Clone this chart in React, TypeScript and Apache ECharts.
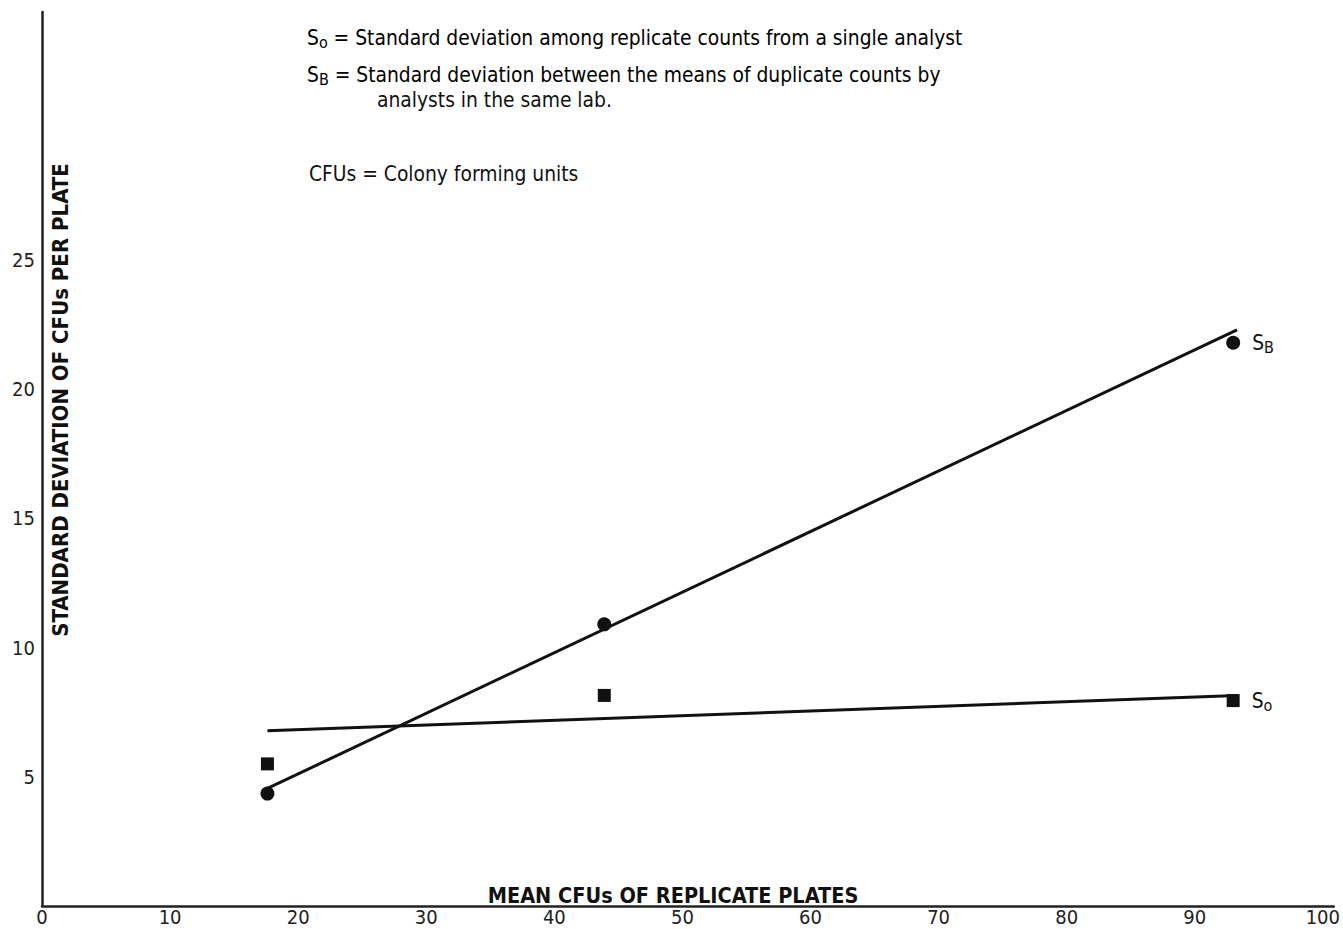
import React, { useEffect, useRef } from "react";
import * as echarts from "echarts";

// Tick labels
const xTickLabels = [0, 10, 20, 30, 40, 50, 60, 70, 80, 90, 100];
const yTickLabels = [5, 10, 15, 20, 25];

// S_B (between analysts) observed points
const sbX = [17.6, 43.9, 93.0];
const sbY = [4.35, 10.9, 21.8];
// S_o (single analyst) observed points
const soX = [17.6, 43.9, 93.0];
const soY = [5.5, 8.15, 7.95];

// Fitted lines (endpoints)
const sbFitX = [17.6, 93.3];
const sbFitY = [4.55, 22.3];
const soFitX = [17.6, 93.3];
const soFitY = [6.78, 8.15];

const FONT = "'DejaVu Sans Condensed', 'DejaVu Sans', sans-serif";
const INK = "#111";

export default function App() {
  const ref = useRef<HTMLDivElement>(null);

  useEffect(() => {
    document.body.style.margin = "0";
    if (!ref.current) return;
    const chart = echarts.init(ref.current, undefined, { renderer: "svg" });

    const subRich = {
      s: { fontFamily: FONT, fontSize: 20.8, color: INK },
      sub: { fontFamily: FONT, fontSize: 16, color: INK, padding: [10, 0, 0, 0] },
      t: { fontFamily: FONT, fontSize: 20.8, color: INK },
    };

    const pts = (xs: number[], ys: number[], name: string) =>
      xs.map((x, i) =>
        i === xs.length - 1
          ? {
              value: [x, ys[i]],
              label: {
                show: true,
                position: "right",
                distance: 12,
                formatter: "{s|S}{sub|" + name + "}",
                rich: subRich,
              },
            }
          : [x, ys[i]]
      );

    const fit = (xs: number[], ys: number[]) => xs.map((x, i) => [x, ys[i]]);

    const richText = (sub: string, rest: string) => ({
      text: "{s|S}{sub|" + sub + "}{t|" + rest + "}",
      rich: subRich,
    });

    chart.setOption({
      animation: false,
      backgroundColor: "#fff",
      grid: { left: 42, right: 5, top: 12, bottom: 23, containLabel: false },
      xAxis: {
        type: "value",
        min: 0,
        max: 100.85,
        interval: 10,
        axisLine: { show: true, lineStyle: { color: "#222", width: 2.5 } },
        axisTick: { show: false },
        splitLine: { show: false },
        axisLabel: {
          margin: 1,
          fontFamily: FONT,
          fontSize: 20,
          color: "#222",
          showMaxLabel: true,
          formatter: (v: number) => (xTickLabels.includes(v) ? String(v) : ""),
        },
      },
      yAxis: {
        type: "value",
        min: 0,
        max: 34.6,
        interval: 5,
        axisLine: { show: true, onZero: false, lineStyle: { color: "#222", width: 2.5 } },
        axisTick: { show: false },
        splitLine: { show: false },
        axisLabel: {
          margin: 7,
          fontFamily: FONT,
          fontSize: 20,
          color: "#222",
          formatter: (v: number) => (yTickLabels.includes(v) ? String(v) : ""),
        },
      },
      series: [
        {
          type: "line",
          data: fit(sbFitX, sbFitY),
          symbol: "none",
          lineStyle: { color: INK, width: 3 },
          z: 2,
        },
        {
          type: "line",
          data: fit(soFitX, soFitY),
          symbol: "none",
          lineStyle: { color: INK, width: 3 },
          z: 2,
        },
        {
          type: "scatter",
          data: pts(sbX, sbY, "B"),
          symbol: "circle",
          symbolSize: 14,
          itemStyle: { color: INK, opacity: 1 },
          z: 3,
        },
        {
          type: "scatter",
          data: pts(soX, soY, "o"),
          symbol: "rect",
          symbolSize: 13,
          itemStyle: { color: INK, opacity: 1, borderRadius: 2 },
          z: 3,
        },
      ],
      graphic: [
        {
          type: "text",
          left: 307,
          top: 27,
          style: richText("o", " = Standard deviation among replicate counts from a single analyst"),
        },
        {
          type: "text",
          left: 307,
          top: 64,
          style: richText("B", " = Standard deviation between the means of duplicate counts by"),
        },
        {
          type: "text",
          left: 377,
          top: 89,
          style: { text: "analysts in the same lab.", fontFamily: FONT, fontSize: 20.8, fill: INK },
        },
        {
          type: "text",
          left: 309,
          top: 163,
          style: { text: "CFUs = Colony forming units", fontFamily: FONT, fontSize: 20.8, fill: INK },
        },
        {
          type: "text",
          x: 60,
          y: 400,
          rotation: Math.PI / 2,
          style: {
            text: "STANDARD DEVIATION OF CFUs PER PLATE",
            fontFamily: FONT,
            fontWeight: "bold",
            fontSize: 22,
            fill: INK,
            align: "center",
            verticalAlign: "middle",
          },
        },
        {
          type: "text",
          x: 673,
          y: 895,
          style: {
            text: "MEAN CFUs OF REPLICATE PLATES",
            fontFamily: FONT,
            fontWeight: "bold",
            fontSize: 21.5,
            fill: INK,
            align: "center",
            verticalAlign: "middle",
          },
        },
      ],
    });

    return () => chart.dispose();
  }, []);

  return <div ref={ref} style={{ width: 1343, height: 929 }} />;
}
